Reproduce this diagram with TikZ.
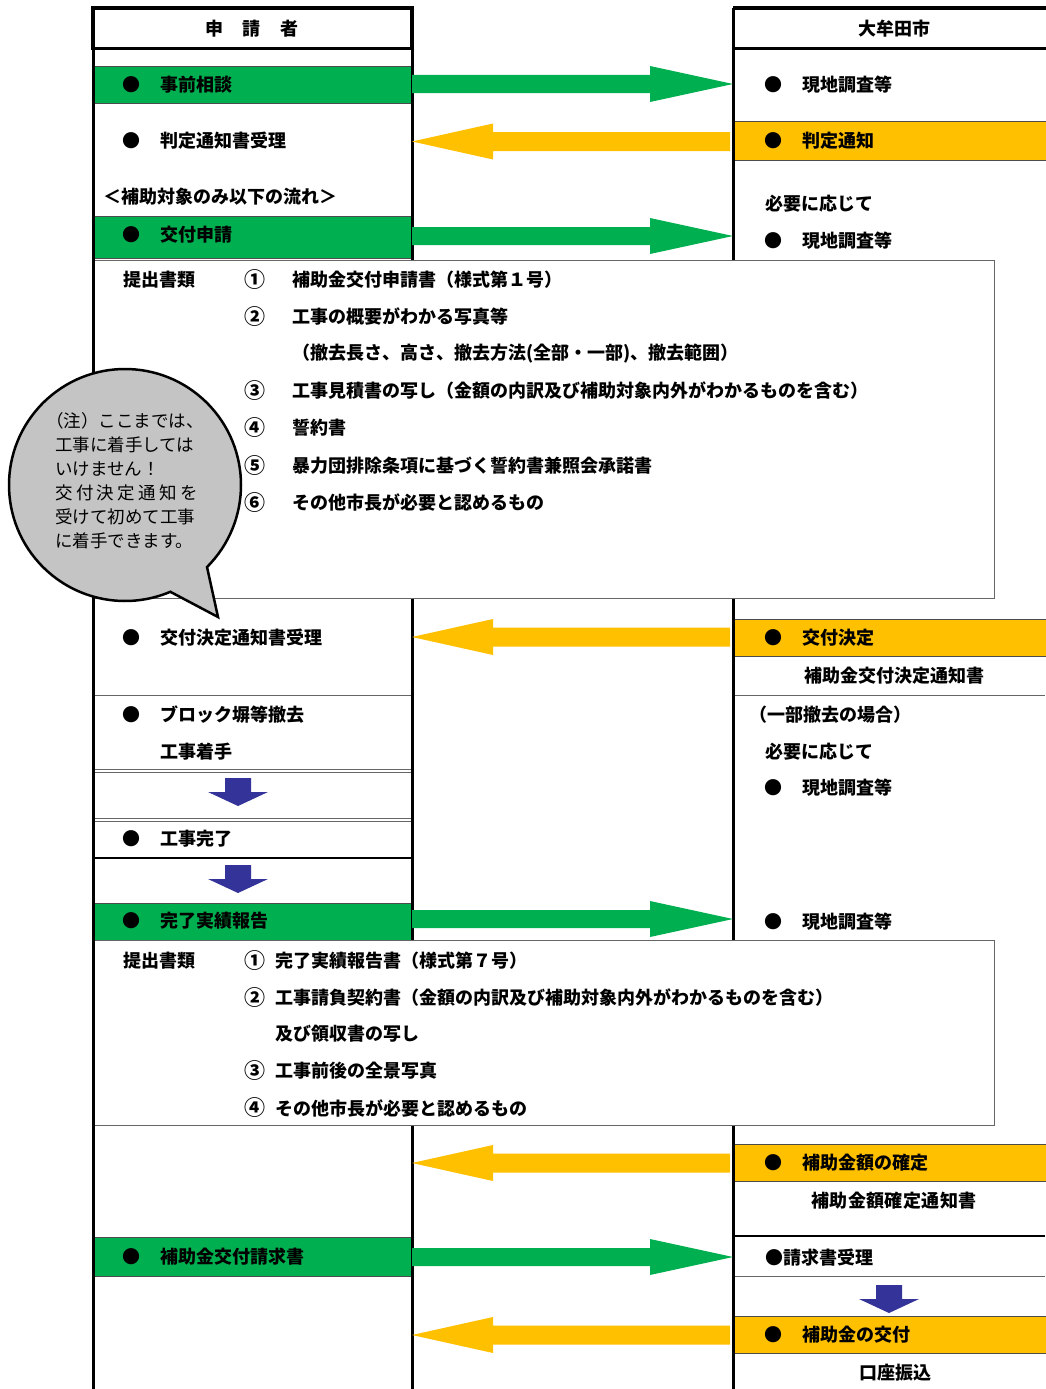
\documentclass[tikz,border=0pt]{standalone}
\usepackage{fontspec}
\newfontfamily\jp{Noto Sans CJK JP}
\usetikzlibrary{calc}
\definecolor{gr}{HTML}{00B050}
\definecolor{og}{HTML}{FFC000}
\definecolor{bl}{HTML}{333399}
\definecolor{bub}{HTML}{C4C4C4}
\newcommand\rarr[2]{\fill[gr] let \p1=(#1), \p2=(#2) in (\x1,\y1+9pt) -- (\x2-83pt,\y1+9pt) -- (\x2-83pt,\y1+18pt) -- (\x2,\y2) -- (\x2-83pt,\y1-18pt) -- (\x2-83pt,\y1-9pt) -- (\x1,\y1-9pt) -- cycle;}
\newcommand\larr[2]{\fill[og] let \p1=(#1), \p2=(#2) in (\x1,\y1+9.5pt) -- (\x2+81pt,\y1+9.5pt) -- (\x2+81pt,\y1+18pt) -- (\x2,\y2) -- (\x2+81pt,\y1-18pt) -- (\x2+81pt,\y1-9.5pt) -- (\x1,\y1-9.5pt) -- cycle;}
\newcommand\darr[1]{\fill[bl] let \p1=(#1) in (\x1-13pt,\y1) -- (\x1+13pt,\y1) -- (\x1+13pt,\y1-14pt) -- (\x1+30pt,\y1-14pt) -- (\x1,\y1-28pt) -- (\x1-30pt,\y1-14pt) -- (\x1-13pt,\y1-14pt) -- cycle;}
\begin{document}
\begin{tikzpicture}[x=1pt,y=1pt,
 lbl/.style={anchor=west,inner sep=0pt,font=\jp\bfseries\fontsize{18}{21}\selectfont},
 clbl/.style={lbl,anchor=center},
 num/.style={inner sep=0pt,anchor=center,font=\jp\bfseries\fontsize{21}{24}\selectfont},
 bul/.style={inner sep=0pt,anchor=center,font=\jp\fontsize{18}{21}\selectfont},
 btxt/.style={anchor=west,inner sep=0pt,text=black,font=\jp\fontsize{17.5}{21}\selectfont},
 gbar/.style={fill=gr,draw=black!70,line width=0.8},
 obar/.style={fill=og,draw=black!70,line width=0.8},
 colline/.style={draw=black,line width=3},
 sep/.style={draw=black!60,line width=1},
 docbox/.style={fill=white,draw=black!60,line width=1},
 hdr/.style={draw=black,line width=3.2}]
\useasboundingbox (0,0) rectangle (1045,-1389);
\fill[white] (0,0) rectangle (1045,-1389);
% coloured bars
\path[gbar] (93,-66) rectangle (412,-103);
\path[gbar] (93,-216) rectangle (412,-258);
\path[gbar] (93,-903) rectangle (412,-940);
\path[gbar] (93,-1237) rectangle (412,-1276);
\path[obar] (733,-121) rectangle (1047,-160);
\path[obar] (733,-619) rectangle (1047,-656);
\path[obar] (733,-1144) rectangle (1047,-1181);
\path[obar] (733,-1316) rectangle (1047,-1353);
% separators
\draw[sep] (93,-695) -- (412,-695);
\draw[sep] (733,-695) -- (1045,-695);
\draw[sep] (93,-769) -- (412,-769);
\draw[sep] (93,-772.5) -- (412,-772.5);
\draw[sep] (93,-818) -- (412,-818);
\draw[sep] (93,-821.5) -- (412,-821.5);
\draw[black,line width=1.5] (93,-858) -- (412,-858);
\draw[black,line width=1.3] (733,-1236) -- (1045,-1236);
\draw[sep] (733,-1276) -- (1045,-1276);
% column lines
\draw[colline] (412,-8) -- (412,-1389);
\draw[colline] (733,-8) -- (733,-1389);
% document boxes
\path[docbox] (93,-260) rectangle (994,-598);
\path[docbox] (93,-940) rectangle (994,-1125);
\draw[colline] (93,-8) -- (93,-1389);
% headers
\draw[hdr] (93,-8) rectangle (412,-48.5);
\draw[hdr] (733,-8) -- (1050,-8);
\draw[hdr] (733,-48.5) -- (1050,-48.5);
\node[clbl] (h1) at (252,-29) {申\hspace{19.5pt}請\hspace{19.5pt}者};
\node[clbl] (h2) at (894,-29) {大牟田市};
% arrow anchors
\coordinate (g1s) at (412,-84);   \coordinate (g1t) at (733,-84);
\coordinate (o1s) at (730,-141.5);\coordinate (o1t) at (412,-141.5);
\coordinate (g2s) at (412,-236);  \coordinate (g2t) at (733,-236);
\coordinate (o2s) at (730,-637);  \coordinate (o2t) at (412,-637);
\coordinate (g3s) at (412,-919);  \coordinate (g3t) at (733,-919);
\coordinate (o3s) at (730,-1163); \coordinate (o3t) at (412,-1163);
\coordinate (g4s) at (412,-1257); \coordinate (g4t) at (733,-1257);
\coordinate (o4s) at (730,-1335); \coordinate (o4t) at (412,-1335);
\rarr{g1s}{g1t}
\larr{o1s}{o1t}
\rarr{g2s}{g2t}
\larr{o2s}{o2t}
\rarr{g3s}{g3t}
\larr{o3s}{o3t}
\rarr{g4s}{g4t}
\larr{o4s}{o4t}
\coordinate (d1) at (238,-778);
\coordinate (d2) at (238,-865);
\coordinate (d3) at (889,-1285);
\darr{d1}
\darr{d2}
\darr{d3}
% left column texts
\node[bul] (lb1) at (131,-85) {●};  \node[lbl] (l1) at (160,-85) {事前相談};
\node[bul] (lb2) at (131,-141) {●}; \node[lbl] (l2) at (160,-141) {判定通知書受理};
\node[lbl] (l3) at (103,-197) {＜補助対象のみ以下の流れ＞};
\node[bul] (lb4) at (131,-235) {●}; \node[lbl] (l4) at (160,-235) {交付申請};
\node[bul] (lb5) at (131,-638) {●}; \node[lbl] (l5) at (160,-638) {交付決定通知書受理};
\node[bul] (lb6) at (131,-715) {●}; \node[lbl] (l6) at (160,-715) {ブロック塀等撤去};
\node[lbl] (l7) at (160,-752) {工事着手};
\node[bul] (lb8) at (131,-839) {●}; \node[lbl] (l8) at (160,-839) {工事完了};
\node[bul] (lb9) at (131,-921) {●}; \node[lbl] (l9) at (160,-921) {完了実績報告};
\node[bul] (lb10) at (131,-1257) {●}; \node[lbl] (l10) at (160,-1257) {補助金交付請求書};
% right column texts
\node[bul] (rb1) at (773,-85) {●};  \node[lbl] (r1) at (802,-85) {現地調査等};
\node[bul] (rb2) at (773,-141) {●}; \node[lbl] (r2) at (802,-141) {判定通知};
\node[lbl] (r3) at (765,-204) {必要に応じて};
\node[bul] (rb4) at (773,-241) {●}; \node[lbl] (r4) at (802,-241) {現地調査等};
\node[bul] (rb5) at (773,-638) {●}; \node[lbl] (r5) at (802,-638) {交付決定};
\node[clbl] (r6) at (894,-676) {補助金交付決定通知書};
\node[lbl] (r7) at (749,-715) {（一部撤去の場合）};
\node[lbl] (r8) at (765,-752) {必要に応じて};
\node[bul] (rb9) at (773,-788) {●}; \node[lbl] (r9) at (802,-788) {現地調査等};
\node[bul] (rb10) at (773,-922) {●}; \node[lbl] (r10) at (802,-922) {現地調査等};
\node[bul] (rb11) at (773,-1163) {●}; \node[lbl] (r11) at (802,-1163) {補助金額の確定};
\node[clbl] (r12) at (894,-1201) {補\hspace{0.4pt}助\hspace{0.4pt}金\hspace{0.4pt}額\hspace{0.4pt}確\hspace{0.4pt}定\hspace{0.4pt}通\hspace{0.4pt}知\hspace{0.4pt}書};
\node[lbl] (r13) at (765,-1258) {●請求書受理};
\node[bul] (rb14) at (773,-1335) {●}; \node[lbl] (r14) at (802,-1335) {補助金の交付};
\node[clbl] (r15) at (895,-1373) {口座振込};
% document box 1
\node[lbl] (p1) at (123,-279.5) {提出書類};
\node[num] (p1n1) at (255,-279.5) {①}; \node[lbl] (p1t1) at (292,-279.5) {補助金交付申請書（様式第１号）};
\node[num] (p1n2) at (255,-317) {②}; \node[lbl] (p1t2) at (292,-317) {工事の概要がわかる写真等};
\node[lbl] (p1t2b) at (292,-354) {（撤去長さ、高さ、撤去方法(全部・一部)、撤去範囲）};
\node[num] (p1n3) at (255,-391) {③}; \node[lbl] (p1t3) at (292,-391) {工事見積書の写し（金額の内訳及び補助対象内外がわかるものを含む）};
\node[num] (p1n4) at (255,-428) {④}; \node[lbl] (p1t4) at (292,-428) {誓約書};
\node[num] (p1n5) at (255,-465.5) {⑤}; \node[lbl] (p1t5) at (292,-465.5) {暴力団排除条項に基づく誓約書兼照会承諾書};
\node[num] (p1n6) at (255,-503) {⑥}; \node[lbl] (p1t6) at (292,-503) {その他市長が必要と認めるもの};
% document box 2
\node[lbl] (p2) at (123,-961) {提出書類};
\node[num] (p2n1) at (255,-961) {①}; \node[lbl] (p2t1) at (275,-961) {完了実績報告書（様式第７号）};
\node[num] (p2n2) at (255,-997.5) {②}; \node[lbl] (p2t2) at (275,-997.5) {工事請負契約書（金額の内訳及び補助対象内外がわかるものを含む）};
\node[lbl] (p2t2b) at (275,-1034) {及び領収書の写し};
\node[num] (p2n3) at (255,-1071) {③}; \node[lbl] (p2t3) at (275,-1071) {工事前後の全景写真};
\node[num] (p2n4) at (255,-1108) {④}; \node[lbl] (p2t4) at (275,-1108) {その他市長が必要と認めるもの};
% speech bubble
\path[fill=bub,draw=black,line width=2.5] (125,-485) ++(-45:116) arc[start angle=-45,end angle=293,radius=116] -- (218,-617) -- cycle;
\node[btxt] (bn1) at (46,-421) {（注）ここまでは、};
\node[btxt] (bn2) at (55,-445) {工事に着手しては};
\node[btxt] (bn3) at (55,-469) {いけません！};
\node[btxt] (bn4) at (55,-493) {交\hspace{3.4pt}付\hspace{3.4pt}決\hspace{3.4pt}定\hspace{3.4pt}通\hspace{3.4pt}知\hspace{3.4pt}を};
\node[btxt] (bn5) at (55,-517) {受けて初めて工事};
\node[btxt] (bn6) at (55,-541) {に着手できます。};
\end{tikzpicture}
\end{document}
